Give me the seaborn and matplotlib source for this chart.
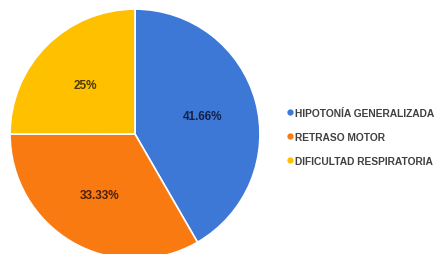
import matplotlib
matplotlib.use('Agg')
import matplotlib.pyplot as plt
import seaborn as sns
from matplotlib.lines import Line2D

# Data
categories = ['HIPOTONÍA GENERALIZADA', 'RETRASO MOTOR', 'DIFICULTAD RESPIRATORIA']
values = [41.66, 33.33, 25]
pct_labels = ['41.66%', '33.33%', '25%']
colors = ['#3D78D6', '#FA7A12', '#FFC000']
label_colors = ['#14214a', '#4a2008', '#4a3a05']

sns.set_theme(style='white')
plt.rcParams['font.family'] = ['Liberation Sans', 'DejaVu Sans']

fig = plt.figure(figsize=(4.43, 2.55), dpi=100)
ax = fig.add_axes([0.0226, -0.0196, 0.5643, 0.980])

wedges, texts, autotexts = ax.pie(
    values, colors=colors, startangle=90, counterclock=False,
    autopct='%1.0f', pctdistance=0.56,
    wedgeprops=dict(edgecolor='white', linewidth=1.2))

for t, lab, c in zip(autotexts, pct_labels, label_colors):
    t.set_text(lab)
    t.set_color(c)
    t.set_fontweight('bold')
    t.set_fontsize(8.5)

ax.set_xlim(-1.0, 1.0)
ax.set_ylim(-1.0, 1.0)

handles = [Line2D([0], [0], marker='o', linestyle='', markersize=3.5,
                  markerfacecolor=c, markeredgecolor=c) for c in colors]
leg = fig.legend(handles, categories, loc='center left',
                 bbox_to_anchor=(0.625, 0.46), frameon=False,
                 handletextpad=0.05, labelspacing=1.35, handlelength=0.8,
                 prop=dict(size=7.4, weight='bold'))
for t in leg.get_texts():
    t.set_color('#404040')

fig.savefig('out.png', dpi=100)
